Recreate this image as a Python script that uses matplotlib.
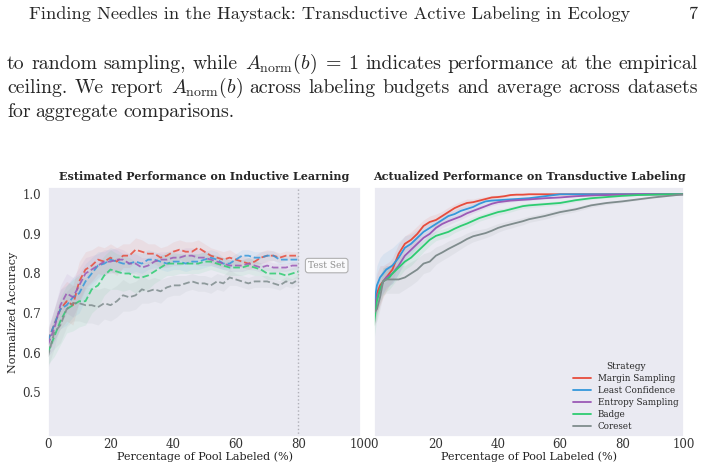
import matplotlib
matplotlib.use("Agg")
import matplotlib.pyplot as plt
import seaborn as sns

# ---- data ----
strategies = ["Margin Sampling", "Least Confidence", "Entropy Sampling", "Badge", "Coreset"]
colors = ["#e74c3c", "#3498db", "#9b59b6", "#2ecc71", "#7f8c8d"]

# inductive (left), pool labeled 0..80 % in steps of 2
x_ind = list(range(0, 82, 2))
ind_margin = [0.63, 0.67, 0.71, 0.73, 0.72, 0.78, 0.81, 0.82, 0.835, 0.83, 0.84,
              0.83, 0.845, 0.845, 0.86, 0.855, 0.85, 0.85, 0.84, 0.845, 0.855,
              0.86, 0.855, 0.855, 0.865, 0.855, 0.845, 0.84, 0.835, 0.84, 0.835,
              0.83, 0.825, 0.83, 0.84, 0.845, 0.845, 0.84, 0.845, 0.845, 0.845]
ind_least = [0.63, 0.67, 0.71, 0.72, 0.74, 0.75, 0.78, 0.80, 0.82, 0.825, 0.835,
             0.83, 0.825, 0.825, 0.83, 0.825, 0.835, 0.835, 0.83, 0.825, 0.83,
             0.83, 0.825, 0.83, 0.83, 0.835, 0.84, 0.835, 0.825, 0.825, 0.835,
             0.845, 0.845, 0.84, 0.84, 0.845, 0.845, 0.835, 0.835, 0.835, 0.835]
ind_entropy = [0.62, 0.66, 0.72, 0.75, 0.74, 0.77, 0.80, 0.81, 0.82, 0.83, 0.83,
               0.835, 0.835, 0.825, 0.825, 0.815, 0.82, 0.83, 0.835, 0.835, 0.84,
               0.84, 0.845, 0.845, 0.84, 0.84, 0.835, 0.83, 0.825, 0.82, 0.82,
               0.82, 0.825, 0.82, 0.815, 0.82, 0.815, 0.815, 0.815, 0.82, 0.82]
ind_badge = [0.60, 0.64, 0.68, 0.71, 0.72, 0.73, 0.73, 0.76, 0.77, 0.795, 0.81,
             0.805, 0.80, 0.80, 0.79, 0.79, 0.795, 0.805, 0.815, 0.825, 0.825,
             0.825, 0.825, 0.825, 0.825, 0.83, 0.83, 0.825, 0.82, 0.815, 0.815,
             0.815, 0.82, 0.815, 0.81, 0.80, 0.80, 0.80, 0.795, 0.80, 0.805]
ind_coreset = [0.59, 0.65, 0.67, 0.71, 0.725, 0.725, 0.72, 0.72, 0.715, 0.725, 0.72,
               0.73, 0.745, 0.74, 0.745, 0.76, 0.755, 0.76, 0.755, 0.765, 0.77,
               0.77, 0.775, 0.78, 0.775, 0.775, 0.77, 0.78, 0.775, 0.79, 0.785,
               0.78, 0.775, 0.78, 0.78, 0.78, 0.775, 0.77, 0.78, 0.775, 0.785]
ind_margin_sd = [0.03, 0.04, 0.05, 0.05, 0.05, 0.05, 0.045, 0.04, 0.035, 0.035, 0.035,
                 0.035, 0.03, 0.03, 0.03, 0.03, 0.025, 0.025, 0.025, 0.025, 0.025,
                 0.025, 0.025, 0.025, 0.02, 0.02, 0.02, 0.02, 0.02, 0.02, 0.015,
                 0.015, 0.015, 0.015, 0.015, 0.015, 0.012, 0.012, 0.012, 0.01, 0.01]
ind_least_sd = [0.03, 0.04, 0.05, 0.05, 0.05, 0.05, 0.045, 0.04, 0.035, 0.03, 0.03,
                0.03, 0.025, 0.025, 0.025, 0.025, 0.025, 0.02, 0.02, 0.02, 0.02,
                0.02, 0.02, 0.02, 0.02, 0.02, 0.02, 0.02, 0.015, 0.015, 0.015,
                0.015, 0.015, 0.015, 0.015, 0.012, 0.012, 0.012, 0.01, 0.01, 0.01]
ind_entropy_sd = [0.03, 0.05, 0.05, 0.05, 0.05, 0.045, 0.04, 0.035, 0.03, 0.03, 0.03,
                  0.03, 0.025, 0.025, 0.025, 0.025, 0.02, 0.02, 0.02, 0.02, 0.02,
                  0.02, 0.02, 0.02, 0.02, 0.02, 0.015, 0.015, 0.015, 0.015, 0.015,
                  0.015, 0.015, 0.012, 0.012, 0.012, 0.012, 0.01, 0.01, 0.01, 0.01]
ind_badge_sd = [0.03, 0.05, 0.06, 0.06, 0.065, 0.065, 0.06, 0.06, 0.055, 0.05, 0.05,
                0.045, 0.045, 0.04, 0.04, 0.035, 0.035, 0.03, 0.03, 0.03, 0.03,
                0.025, 0.025, 0.025, 0.025, 0.025, 0.02, 0.02, 0.02, 0.02, 0.02,
                0.02, 0.02, 0.02, 0.015, 0.015, 0.015, 0.015, 0.015, 0.015, 0.015]
ind_coreset_sd = [0.03, 0.04, 0.045, 0.045, 0.045, 0.045, 0.045, 0.045, 0.045, 0.04, 0.04,
                  0.04, 0.04, 0.035, 0.035, 0.035, 0.03, 0.03, 0.03, 0.025, 0.025,
                  0.025, 0.02, 0.02, 0.02, 0.02, 0.02, 0.02, 0.02, 0.02, 0.015,
                  0.015, 0.015, 0.015, 0.015, 0.015, 0.012, 0.012, 0.012, 0.012, 0.012]

# transductive (right), pool labeled 0..100 %
x_tr = [0, 1, 2, 3, 4, 5, 6, 8, 10, 12, 14, 16, 18, 20, 22, 24, 26, 28, 30, 32,
        34, 36, 38, 40, 42, 44, 46, 48, 50, 55, 60, 65, 70, 75, 80, 85, 90, 95, 100]
tr_margin = [0.70, 0.75, 0.77, 0.78, 0.79, 0.80, 0.81, 0.85, 0.875, 0.885, 0.90, 0.92,
             0.93, 0.935, 0.945, 0.955, 0.965, 0.972, 0.978, 0.98, 0.984, 0.988, 0.992,
             0.993, 0.995, 0.998, 0.999, 0.999, 1.0, 1.0, 1.0, 1.0, 1.0, 1.0, 1.0,
             1.0, 1.0, 1.0, 1.0]
tr_least = [0.72, 0.77, 0.79, 0.80, 0.81, 0.815, 0.82, 0.84, 0.865, 0.875, 0.89, 0.905,
            0.915, 0.925, 0.935, 0.945, 0.95, 0.958, 0.963, 0.968, 0.976, 0.982, 0.984,
            0.985, 0.986, 0.987, 0.988, 0.989, 0.99, 0.995, 1.0, 1.0, 1.0, 1.0, 1.0,
            1.0, 1.0, 1.0, 1.0]
tr_entropy = [0.70, 0.74, 0.76, 0.78, 0.79, 0.795, 0.80, 0.82, 0.845, 0.86, 0.875, 0.89,
              0.90, 0.915, 0.925, 0.932, 0.938, 0.944, 0.952, 0.958, 0.964, 0.97, 0.976,
              0.98, 0.982, 0.984, 0.985, 0.986, 0.987, 0.99, 0.992, 0.995, 0.997, 0.998,
              0.999, 1.0, 1.0, 1.0, 1.0]
tr_badge = [0.67, 0.73, 0.76, 0.78, 0.785, 0.79, 0.80, 0.815, 0.83, 0.84, 0.855, 0.87,
            0.885, 0.895, 0.90, 0.905, 0.913, 0.92, 0.926, 0.933, 0.94, 0.945, 0.95,
            0.955, 0.958, 0.962, 0.966, 0.97, 0.972, 0.975, 0.978, 0.985, 0.99, 0.993,
            0.996, 0.998, 0.999, 1.0, 1.0]
tr_coreset = [0.70, 0.71, 0.74, 0.78, 0.785, 0.785, 0.785, 0.785, 0.79, 0.80, 0.81, 0.825,
              0.83, 0.845, 0.853, 0.862, 0.87, 0.878, 0.887, 0.894, 0.898, 0.902, 0.908,
              0.915, 0.92, 0.924, 0.928, 0.932, 0.937, 0.945, 0.955, 0.962, 0.972, 0.978,
              0.982, 0.987, 0.992, 0.996, 1.0]
tr_margin_sd = [0.04, 0.05, 0.05, 0.04, 0.035, 0.03, 0.03, 0.025, 0.02, 0.02, 0.02, 0.015,
                0.015, 0.015, 0.012, 0.012, 0.01, 0.01, 0.01, 0.008, 0.008, 0.006, 0.005,
                0.005, 0.004, 0.003, 0.002, 0.002, 0.001, 0.001, 0.0, 0.0, 0.0, 0.0, 0.0,
                0.0, 0.0, 0.0, 0.0]
tr_least_sd = [0.04, 0.05, 0.05, 0.05, 0.045, 0.045, 0.045, 0.04, 0.03, 0.025, 0.02, 0.015,
               0.015, 0.012, 0.012, 0.01, 0.01, 0.01, 0.008, 0.008, 0.008, 0.006, 0.006,
               0.005, 0.005, 0.005, 0.004, 0.004, 0.004, 0.003, 0.001, 0.0, 0.0, 0.0, 0.0,
               0.0, 0.0, 0.0, 0.0]
tr_entropy_sd = [0.04, 0.04, 0.035, 0.03, 0.03, 0.025, 0.025, 0.02, 0.02, 0.015, 0.015, 0.012,
                 0.012, 0.01, 0.01, 0.01, 0.008, 0.008, 0.008, 0.006, 0.006, 0.005, 0.005,
                 0.005, 0.004, 0.004, 0.003, 0.003, 0.003, 0.002, 0.002, 0.001, 0.001, 0.0,
                 0.0, 0.0, 0.0, 0.0, 0.0]
tr_badge_sd = [0.04, 0.04, 0.035, 0.035, 0.03, 0.03, 0.03, 0.025, 0.02, 0.02, 0.018, 0.015,
               0.015, 0.012, 0.012, 0.012, 0.01, 0.01, 0.01, 0.01, 0.008, 0.008, 0.008,
               0.008, 0.007, 0.007, 0.006, 0.006, 0.006, 0.005, 0.005, 0.004, 0.003, 0.002,
               0.002, 0.001, 0.0, 0.0, 0.0]
tr_coreset_sd = [0.03, 0.03, 0.03, 0.035, 0.035, 0.035, 0.035, 0.035, 0.03, 0.03, 0.028, 0.025,
                 0.025, 0.022, 0.02, 0.02, 0.018, 0.016, 0.015, 0.014, 0.013, 0.012, 0.012,
                 0.011, 0.01, 0.01, 0.009, 0.009, 0.008, 0.008, 0.007, 0.006, 0.005, 0.004,
                 0.003, 0.002, 0.002, 0.001, 0.0]

ind_series = [ind_margin, ind_least, ind_entropy, ind_badge, ind_coreset]
ind_spread = [ind_margin_sd, ind_least_sd, ind_entropy_sd, ind_badge_sd, ind_coreset_sd]
tr_series = [tr_margin, tr_least, tr_entropy, tr_badge, tr_coreset]
tr_spread = [tr_margin_sd, tr_least_sd, tr_entropy_sd, tr_badge_sd, tr_coreset_sd]

yticks = [0.5, 0.6, 0.7, 0.8, 0.9, 1.0]
xticks = [0, 20, 40, 60, 80, 100]

header = "Finding Needles in the Haystack: Transductive Active Labeling in Ecology"
page_no = "7"
body_lines = [
    "to random sampling, while $A_{\\mathrm{norm}}(b)\\;=\\;1$ indicates performance at the empirical",
    "ceiling. We report $A_{\\mathrm{norm}}(b)$ across labeling budgets and average across datasets",
    "for aggregate comparisons.",
]

# ---- style ----
sns.set_theme(style="dark", font="serif")
plt.rcParams["mathtext.fontset"] = "cm"

fig = plt.figure(figsize=(7.04, 4.69), dpi=100)
fig.patch.set_facecolor("white")

ax1 = fig.add_axes([0.068, 0.068, 0.445, 0.533])
ax2 = fig.add_axes([0.531, 0.068, 0.441, 0.533], sharey=ax1)

for vals, sd, c in zip(ind_series, ind_spread, colors):
    lo = [v - s for v, s in zip(vals, sd)]
    hi = [v + s for v, s in zip(vals, sd)]
    ax1.fill_between(x_ind, lo, hi, color=c, alpha=0.08, linewidth=0)
    ax1.plot(x_ind, vals, color=c, linestyle="--", linewidth=1.3, alpha=0.85)

ax1.axvline(80, color="#b0b0b8", linestyle=":", linewidth=1.0)
ax1.text(89, 0.82, "Test Set", fontsize=6.5, color="#909090", ha="center", va="center",
         bbox=dict(boxstyle="round,pad=0.3", facecolor="white", edgecolor="#a0a0a0",
                   linewidth=0.8, alpha=0.8))

for vals, sd, c, name in zip(tr_series, tr_spread, colors, strategies):
    lo = [v - s for v, s in zip(vals, sd)]
    hi = [v + s for v, s in zip(vals, sd)]
    ax2.fill_between(x_tr, lo, hi, color=c, alpha=0.09, linewidth=0)
    ax2.plot(x_tr, vals, color=c, linewidth=1.3, label=name)

for ax in (ax1, ax2):
    ax.set_xlim(0, 100)
    ax.set_xticks(xticks)
    ax.tick_params(labelsize=8.5, length=0, colors="#333333")
    ax.tick_params(axis="x", pad=1)
    ax.set_xlabel("Percentage of Pool Labeled (%)", fontsize=8, labelpad=0, color="#222222")

ax1.tick_params(axis="y", pad=5)
ax1.set_ylim(0.387, 1.018)
ax1.set_yticks(yticks)
ax1.set_ylabel("Normalized Accuracy", fontsize=8, labelpad=3, color="#222222")
plt.setp(ax2.get_yticklabels(), visible=False)

ax1.set_title("Estimated Performance on Inductive Learning", fontsize=8,
              fontweight="bold", pad=5)
ax2.set_title("Actualized Performance on Transductive Labeling", fontsize=8,
              fontweight="bold", pad=5)

leg = ax2.legend(title="Strategy", loc="lower right", fontsize=6.3, title_fontsize=6.5,
                 frameon=False, handlelength=2.0, labelspacing=0.35, borderaxespad=0.3)

# ---- page text ----
fig.text(29 / 704, 1 - 14 / 469, header, family="cmr10", fontsize=13.2,
         ha="left", va="center")
fig.text(697 / 704, 1 - 14 / 469, page_no, family="cmr10", fontsize=13.2,
         ha="right", va="center")

renderer = fig.canvas.get_renderer()
left_px, right_px = 7, 698
line_y = [64, 88, 112]
for i, line in enumerate(body_lines):
    y = 1 - line_y[i] / 469
    # split words, keep math groups intact
    words = line.split(" ")
    merged = []
    buf = ""
    for w in words:
        if buf:
            buf += " " + w
            if buf.count("$") % 2 == 0:
                merged.append(buf)
                buf = ""
        elif w.count("$") % 2 == 1:
            buf = w
        else:
            merged.append(w)
    texts = [fig.text(0, y, w, family="cmr10", fontsize=14.3, ha="left", va="center")
             for w in merged]
    widths = [t.get_window_extent(renderer).width for t in texts]
    if i < len(body_lines) - 1:
        gap = (right_px - left_px - sum(widths)) / (len(texts) - 1)
    else:
        gap = 5.0
    x = left_px
    for t, wd in zip(texts, widths):
        t.set_x(x / 704)
        x += wd + gap

fig.savefig("out.png", dpi=100)
